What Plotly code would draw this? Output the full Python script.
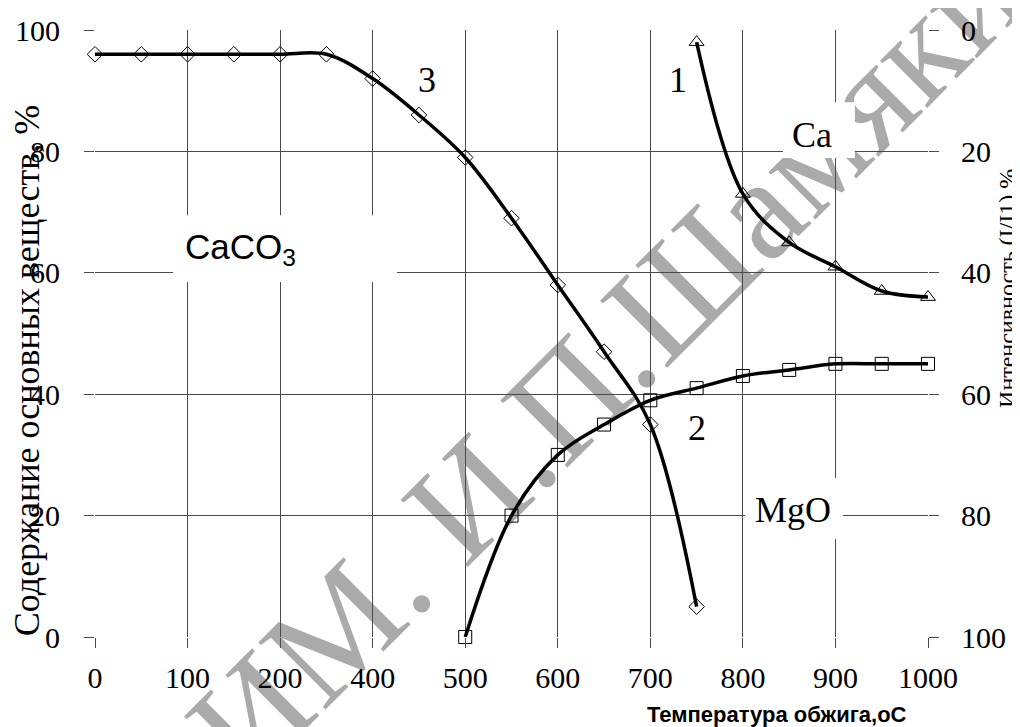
import plotly.graph_objects as go

# ---- data ----
temps = ["0", "50", "100", "150", "200", "300", "400", "450", "500", "550",
         "600", "650", "700", "750", "800", "850", "900", "950", "1000"]
tick_labels = ["0", "100", "200", "400", "500", "600", "700", "800", "900", "1000"]

caco3_temps = temps[:14]
caco3_content = [96, 96, 96, 96, 96, 96, 92, 86, 79, 69, 58, 47, 35, 5]

mgo_temps = temps[8:]
mgo_content = [0, 20, 30, 35, 39, 41, 43, 44, 45, 45, 45]

ca_temps = temps[13:]
ca_intensity = [2, 27, 35, 39, 43, 44]

left_ticks = [0, 20, 40, 60, 80, 100]
right_ticks = [0, 20, 40, 60, 80, 100]

# ---- styling ----
SERIF = "Liberation Serif, Times New Roman, serif"
SANS = "Liberation Sans, Arial, sans-serif"
GRID = "#4a4a4a"
pos = {t: i for i, t in enumerate(temps)}

fig = go.Figure()

def add_curve(xs, ys, symbol, size, yaxis="y"):
    fig.add_trace(go.Scatter(
        x=[pos[t] for t in xs], y=ys, yaxis=yaxis, mode="lines+markers",
        line=dict(color="black", width=3.5, shape="spline", smoothing=1),
        marker=dict(symbol=symbol, size=size, color="black",
                    line=dict(color="black", width=1)),
        cliponaxis=False, hoverinfo="skip"))

add_curve(caco3_temps, caco3_content, "diamond-open", 12)
add_curve(mgo_temps, mgo_content, "square-open", 13)
add_curve(ca_temps, ca_intensity, "triangle-up-open", 13, yaxis="y2")

# watermark (drawn beneath grid and curves)
fig.add_shape(type="line", xref="paper", yref="paper", x0=0.1044, y0=-0.2043, x1=0.8247, y1=0.7842,
              line=dict(color="rgba(0,0,0,0)", width=0), layer="below",
              label=dict(text="МГПУ ИМ. И.П.Шамякина", textposition="middle",
                         yanchor="middle", xanchor="center",
                         font=dict(family=SERIF, size=145, color="#aaaaaa")))

# white boxes behind text labels (cover gridlines)
boxes = [(1.685, 6.526, 58.5, 69.5), (14.866, 16.42, 78.9, 88.1), (14.045, 16.16, 16.1, 26.2)]
for x0, x1, y0, y1 in boxes:
    fig.add_shape(type="rect", xref="x", yref="y", x0=x0, x1=x1, y0=y0, y1=y1,
                  fillcolor="white", line=dict(width=0), layer="between")

ann = [
    dict(text="3", x=7.17, y=91.8, font=dict(family=SERIF, size=36)),
    dict(text="1", x=12.6, y=91.8, font=dict(family=SERIF, size=36)),
    dict(text="Ca", x=15.49, y=82.7, font=dict(family=SERIF, size=36)),
    dict(text="2", x=13.0, y=34.4, font=dict(family=SERIF, size=36)),
    dict(text="MgO", x=15.08, y=20.9, font=dict(family=SERIF, size=36)),
    dict(text="CaCO<sub>3</sub>", x=1.9, y=63.9, xanchor="left", font=dict(family=SANS, size=35)),
]
for a in ann:
    a.setdefault("xanchor", "center")
    a["font"]["color"] = "black"
    fig.add_annotation(xref="x", yref="y", showarrow=False, yanchor="middle", **a)

fig.add_annotation(text="Содержание основных веществ, %", xref="paper", yref="paper",
                   x=-0.0816, y=0.438, textangle=-90, showarrow=False,
                   xanchor="center", yanchor="middle",
                   font=dict(family=SERIF, size=36, color="black"))
fig.add_annotation(text="Интенсивность (I/I1),%", xref="paper", yref="paper",
                   x=1.0948, y=0.575, textangle=-90, showarrow=False,
                   xanchor="center", yanchor="middle", borderpad=0,
                   font=dict(family=SERIF, size=24, color="black"))
fig.add_annotation(text="<b>Температура обжига,оС</b>", xref="paper", yref="paper",
                   x=0.8187, y=-0.1269, showarrow=False, xanchor="center", yanchor="middle",
                   font=dict(family=SANS, size=22, color="black"))

# the page adds an 8px body margin, so the figure is 8px smaller on each axis
fig.update_layout(
    width=1012, height=719,
    margin=dict(l=87, r=92, t=22, b=90, autoexpand=False),
    paper_bgcolor="white", plot_bgcolor="white", showlegend=False,
    xaxis=dict(range=[0, len(temps) - 1], tickmode="array", automargin=False,
               tickvals=[pos[t] for t in tick_labels], ticktext=tick_labels,
               showgrid=True, gridcolor=GRID, gridwidth=1, zeroline=False, showline=False,
               ticks="outside", ticklen=10, tickcolor=GRID, ticklabelstandoff=4,
               tickfont=dict(family=SERIF, size=30, color="black")),
    yaxis=dict(range=[0, 100], tickmode="array", tickvals=left_ticks, automargin=False,
               showgrid=True, gridcolor=GRID, gridwidth=1, zeroline=False, showline=False,
               ticks="outside", ticklen=10, tickcolor=GRID, ticklabelstandoff=18,
               tickfont=dict(family=SERIF, size=30, color="black")),
    yaxis2=dict(range=[100, 0], overlaying="y", side="right", tickmode="array", automargin=False,
                tickvals=right_ticks, showgrid=False, zeroline=False, showline=False,
                ticks="outside", ticklen=10, tickcolor=GRID, ticklabelstandoff=16,
                tickfont=dict(family=SERIF, size=30, color="black")),
)

fig.write_html("out.html")
